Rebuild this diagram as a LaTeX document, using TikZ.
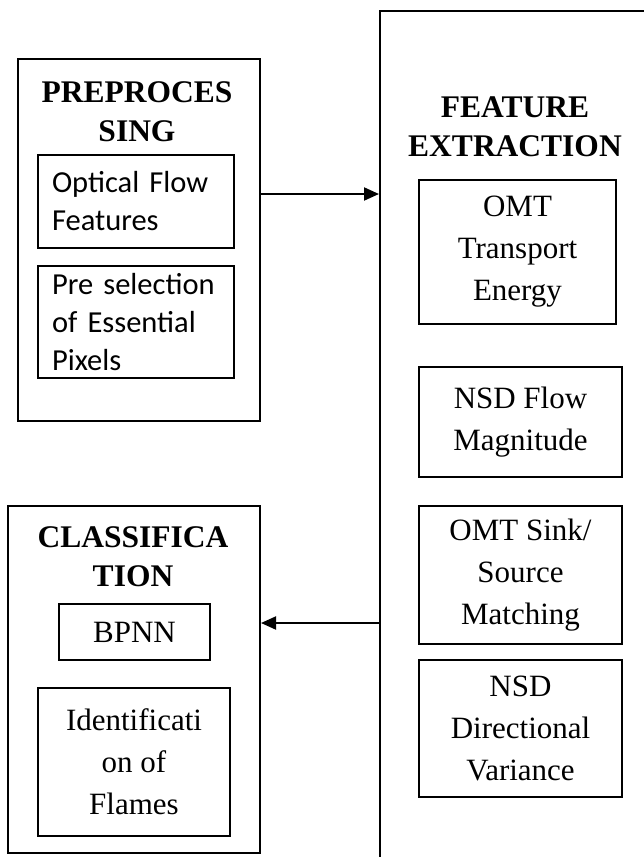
\documentclass[tikz,border=0pt]{standalone}
\usepackage{fontspec}
\setmainfont{Liberation Serif}
\newfontfamily\calib{Carlito}
\usetikzlibrary{arrows.meta}
\begin{document}
\begin{tikzpicture}[x=1pt,y=-1pt,
  box/.style={draw, line width=2pt, inner sep=0pt, anchor=north west, align=center},
  serif/.style={font=\fontsize{31}{42}\selectfont},
  cal/.style={font=\calib\fontsize{30.5}{38}\selectfont, align=left, inner xsep=14pt},
  ttl/.style={font=\bfseries\fontsize{31.5}{39}\selectfont, align=center, inner sep=0pt},
  arr/.style={line width=2pt, -{Triangle[length=15pt,width=13pt]}}]
\useasboundingbox (0,0) rectangle (644,857);
\clip (0,0) rectangle (644,857);
\fill[white] (0,0) rectangle (644,857);
% preprocessing
\node[box, minimum width=242pt, minimum height=362pt] (pre) at (17,58) {};
\node[ttl] (pret) at (137,112) {PREPROCES\\SING};
\node[box, cal, minimum width=196pt, minimum height=93pt, text width=168pt] (opt) at (37,154) {Optical Flow\\Features};
\node[box, cal, minimum width=196pt, minimum height=112pt, text width=168pt] (psel) at (37,265) {Pre selection\\of Essential\\Pixels};
% classification
\node[box, minimum width=252pt, minimum height=347pt] (cls) at (7,505) {};
\node[ttl] (clst) at (133,557) {CLASSIFICA\\TION};
\node[box, serif, minimum width=151pt, minimum height=56pt] (bpnn) at (58,603) {BPNN};
\node[box, serif, minimum width=192pt, minimum height=148pt] (ident) at (37,687) {Identificati\\on of\\Flames};
% feature extraction
\node[box, minimum width=330pt, minimum height=900pt] (feat) at (379,10) {};
\node[ttl] (featt) at (515,127) {FEATURE\\EXTRACTION};
\node[box, serif, minimum width=197pt, minimum height=144pt] (omt) at (418,179) {OMT\\Transport\\Energy};
\node[box, serif, minimum width=203pt, minimum height=110pt] (nsdf) at (418,366) {NSD Flow\\Magnitude};
\node[box, serif, minimum width=203pt, minimum height=138pt] (omts) at (418,505) {OMT Sink/\\Source\\Matching};
\node[box, serif, minimum width=203pt, minimum height=137pt] (nsdd) at (418,659) {NSD\\Directional\\Variance};
% connectors
\coordinate (a1) at (259,194);
\coordinate (a2) at (379,623);
\draw[arr] (a1) -- (feat.west |- a1);
\draw[arr] (a2) -- (cls.east |- a2);
\end{tikzpicture}
\end{document}
